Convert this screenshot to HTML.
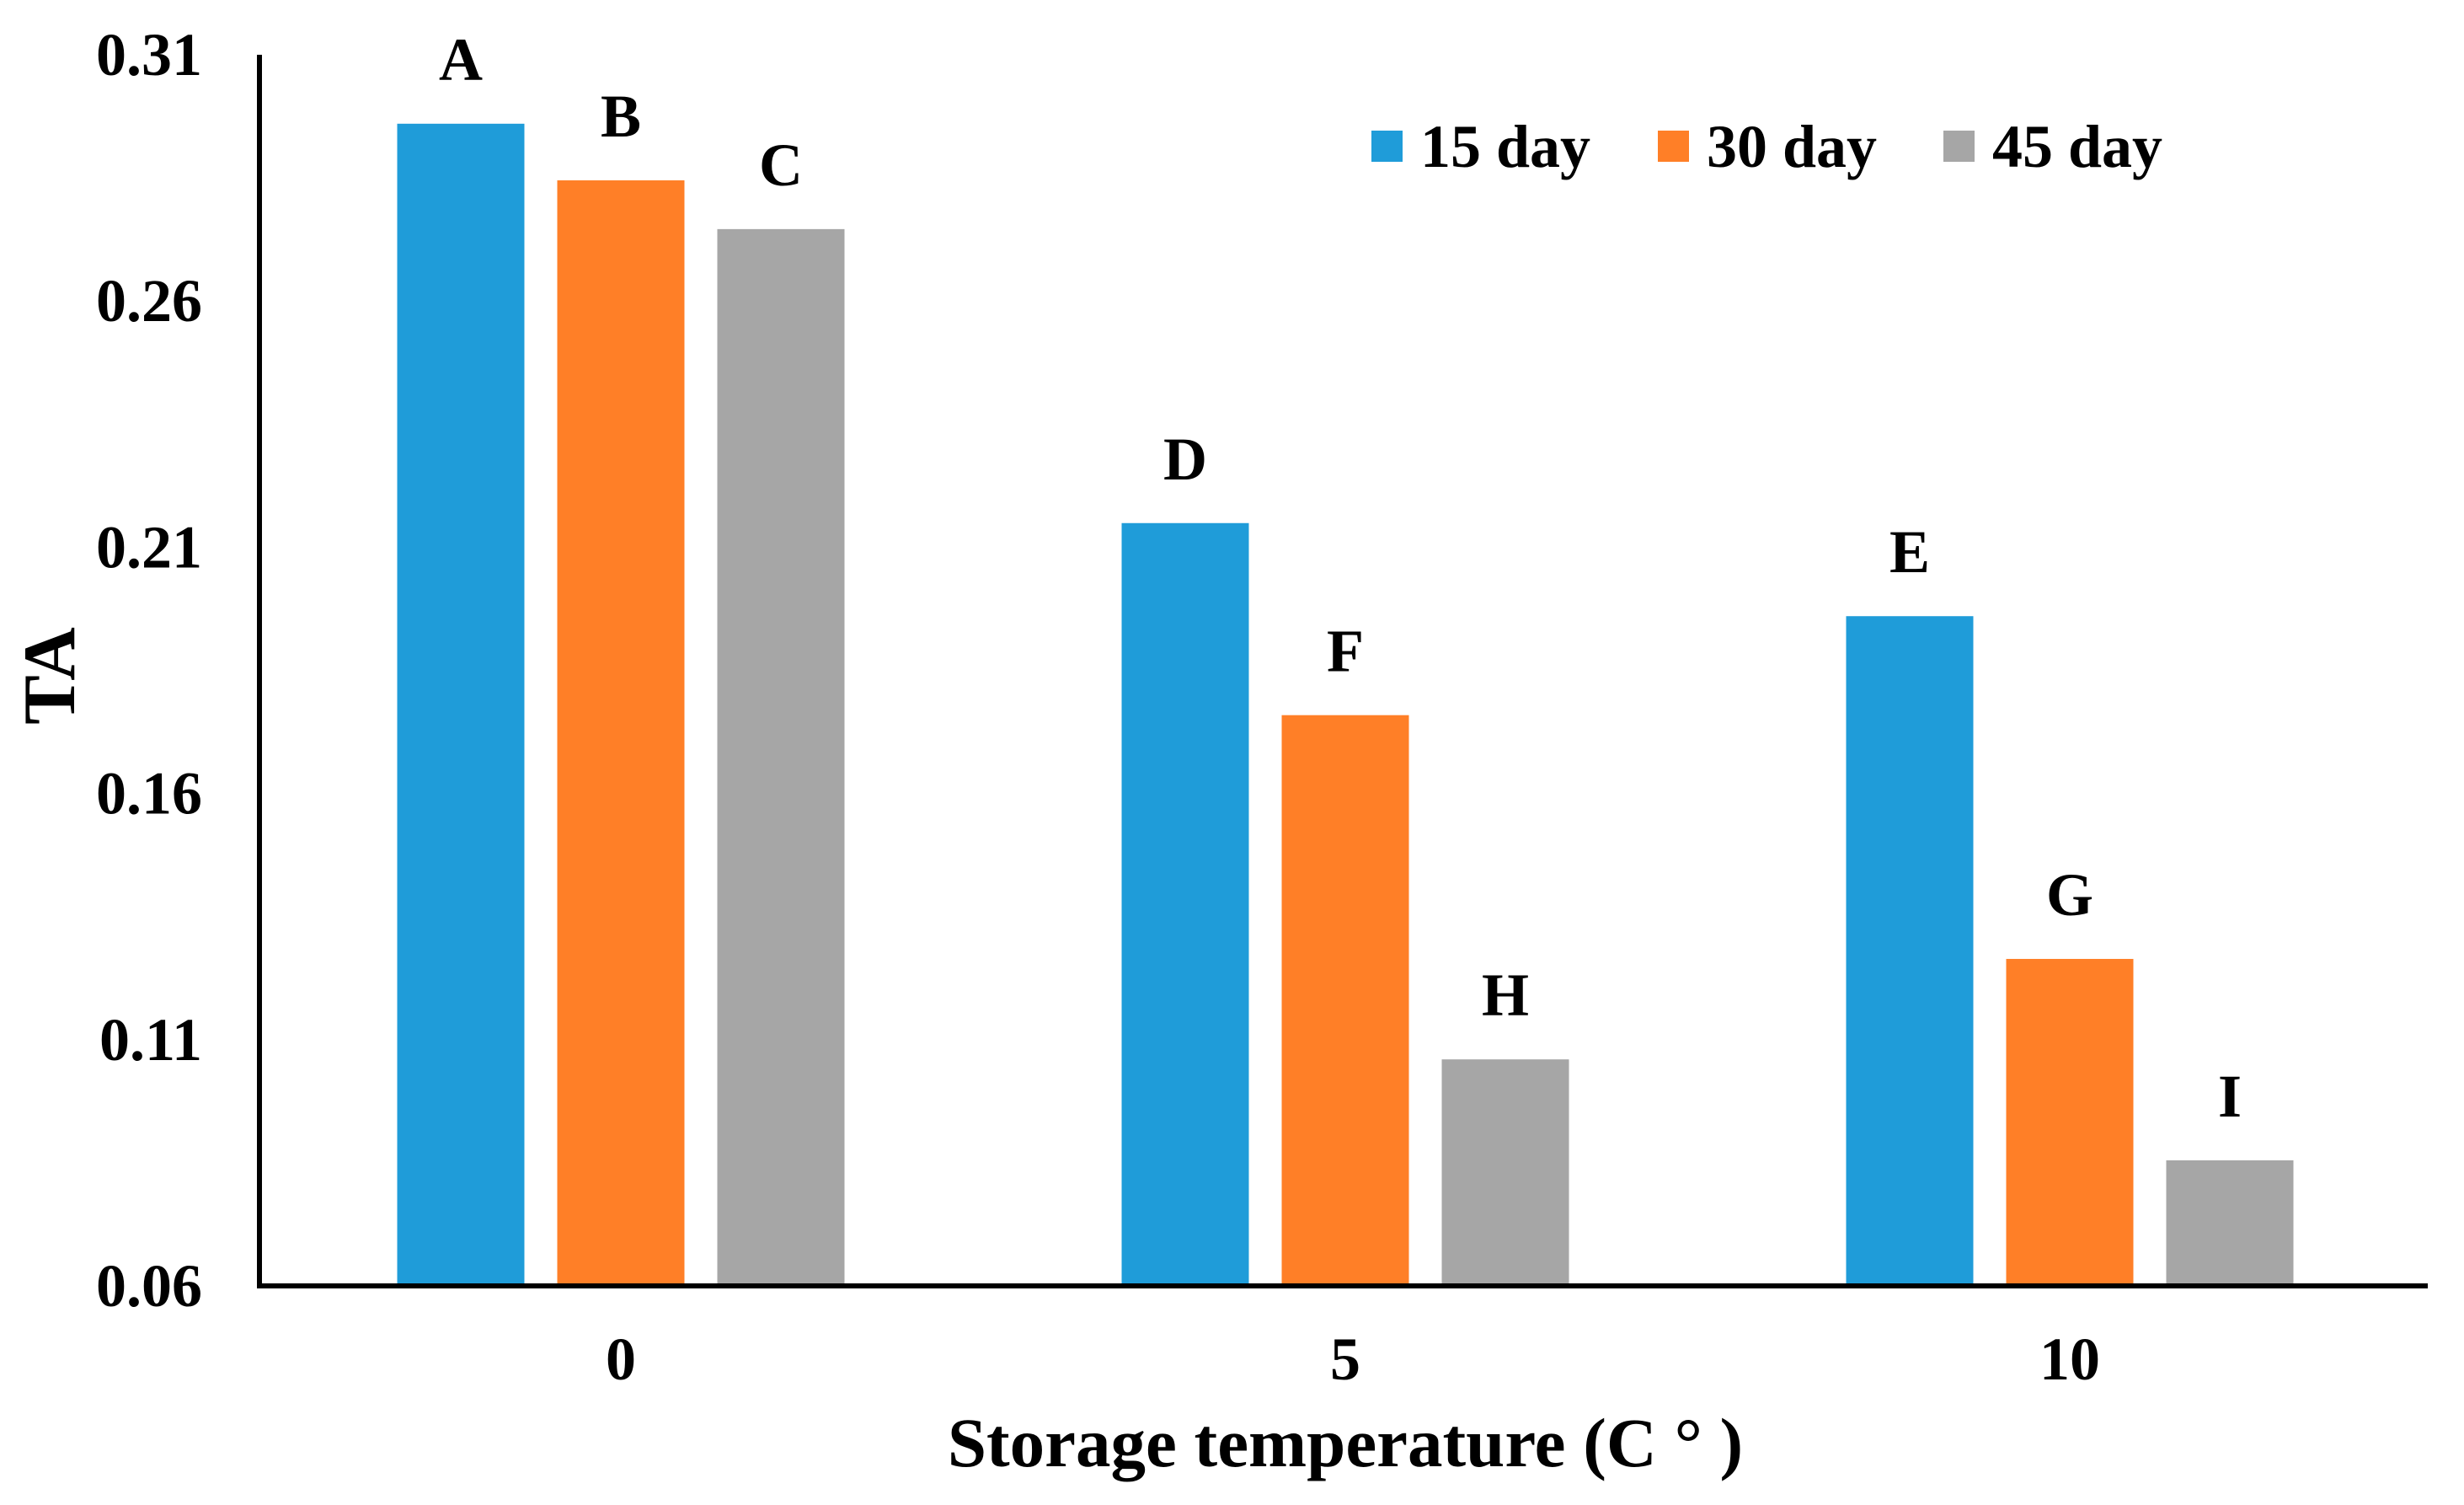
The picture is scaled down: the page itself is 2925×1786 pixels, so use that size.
<!DOCTYPE html>
<html><head><meta charset="utf-8"><style>
body{margin:0;background:#fff}
svg text{font-family:"Liberation Serif",serif;font-weight:bold;fill:#000}
</style></head><body>
<svg width="2925" height="1781" xmlns="http://www.w3.org/2000/svg">
<g id="plot"></g>
</svg>
<script>
const categories=["0","5","10"];
const series=["15 day","30 day","45 day"];
const colors=["#1f9cd9","#ff7f27","#a6a6a6"];
const s15=[0.296,0.2149,0.196];
const s30=[0.2845,0.1759,0.1264];
const s45=[0.2746,0.106,0.0855];
const letters=[["A","D","E"],["B","F","G"],["C","H","I"]];
const yTicks=["0.06","0.11","0.16","0.21","0.26","0.31"];
const vals=[s15,s30,s45];
const NS="http://www.w3.org/2000/svg";
const g=document.getElementById('plot');
const x0=308,x1=2882,yTop=65,yBot=1526,vmin=0.06,vmax=0.31;
const y=v=>yBot-(v-vmin)/(vmax-vmin)*(yBot-yTop);
const catW=860,firstC=737,barW=151,step=190;
const cx=i=>firstC+i*catW;
function el(t,a,txt){const e=document.createElementNS(NS,t);for(const k in a)e.setAttribute(k,a[k]);if(txt!==undefined)e.textContent=txt;g.appendChild(e);return e;}
yTicks.forEach(t=>{const e=el('text',{x:240,y:y(+t)+24,'font-size':72,'text-anchor':'end'},t);

});
vals.forEach((arr,si)=>arr.forEach((v,ci)=>{
 const bx=cx(ci)+(si-1)*step-barW/2;
 const r=el('rect',{x:bx,y:y(v),width:barW,height:yBot-y(v),fill:colors[si]});
 
 
 const t=el('text',{x:bx+barW/2,y:y(v)-52,'font-size':72,'text-anchor':'middle'},letters[si][ci]);
 
 
}));
categories.forEach((c,i)=>{const t=el('text',{x:cx(i),y:1637,'font-size':72,'text-anchor':'middle'},c);

});
const ya=el('line',{x1:x0,y1:yTop,x2:x0,y2:yBot+3,stroke:'#000','stroke-width':6});


const xa=el('line',{x1:x0-3,y1:yBot,x2:x1,y2:yBot,stroke:'#000','stroke-width':6});


const xt=el('text',{x:1597,y:1740,'font-size':83,'text-anchor':'middle'},"Storage temperature (C ° )");


const yt=el('text',{x:0,y:0,'font-size':88,'text-anchor':'middle',transform:'translate(88,802) rotate(-90)'},"TA");


const lx=[1628,1968,2307];
series.forEach((s,i)=>{
 const r=el('rect',{x:lx[i],y:155,width:37,height:37,fill:colors[i]});
 
 
 const t=el('text',{x:lx[i]+58,y:198,'font-size':72},s);
 
 
});
</script>
</body></html>
